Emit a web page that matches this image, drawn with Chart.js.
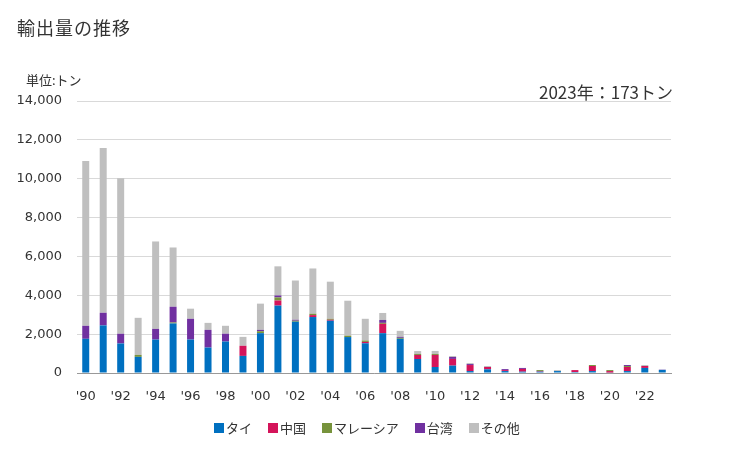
<!DOCTYPE html>
<html>
<head>
<meta charset="utf-8">
<script src="https://cdn.jsdelivr.net/npm/chart.js@4.4.0/dist/chart.umd.min.js"></script>
<style>
  body { margin: 0; background: #fff; font-family: "Noto Sans CJK JP", sans-serif; }
  #wrap { position: relative; width: 729px; height: 450px; }
  .txt { position: absolute; color: #333; white-space: nowrap; line-height: 1; }
  #title { left: 17px; top: 18px; font-size: 18px; letter-spacing: 1px; }
  #unit { left: 26px; top: 73px; font-size: 13px; }
  #note { right: 56px; top: 83px; font-size: 17px; }
  #legenda { position: absolute; left: 214px; top: 420px; display: flex; gap: 16px;
    font-size: 13px; color: #333; line-height: 16px; }
  #legenda span.item { display: flex; align-items: center; }
  #legenda i { display: inline-block; width: 10px; height: 10px; margin-right: 2px; }
</style>
</head>
<body>
<div id="wrap">
  <canvas id="grafico"></canvas>
  <div class="txt" id="title">輸出量の推移</div>
  <div class="txt" id="unit">単位:トン</div>
  <div class="txt" id="note">2023年：173トン</div>
  <div id="legenda"></div>
</div>
<script>
// --- DADOS ---
const anos = ['1990','1991','1992','1993','1994','1995','1996','1997','1998','1999',
  '2000','2001','2002','2003','2004','2005','2006','2007','2008','2009',
  '2010','2011','2012','2013','2014','2015','2016','2017','2018','2019',
  '2020','2021','2022','2023'];

const tai      = [1760,2450,1520,830,1720,2550,1720,1310,1620,880, 2050,3470,2640,2880,2690,1850,1530,2050,1760,720, 310,380,100,190,100,70,70,100,50,100, 20,100,260,160];
const china    = [0,0,0,0,0,0,0,0,0,520, 0,260,0,100,50,0,70,480,0,210, 620,345,310,120,50,140,30,0,100,260, 80,210,100,0];
const malasia  = [0,0,0,100,0,50,0,0,0,0, 100,160,50,70,50,70,70,50,50,50, 50,0,0,0,0,0,50,0,0,50, 50,50,0,0];
const taiwan   = [670,650,500,0,550,810,1070,910,400,0, 70,100,50,0,0,0,0,150,50,0, 0,100,50,0,50,50,0,0,0,0, 0,50,0,13];
const outros   = [8480,8480,8010,1910,4500,3050,520,360,410,460, 1350,1500,2020,2330,1910,1800,1120,360,310,150, 155,50,50,50,0,0,0,50,0,0, 0,0,50,0];

const ticksY = [0,2000,4000,6000,8000,10000,12000,14000];

const nomes = ['タイ', '中国', 'マレーシア', '台湾', 'その他'];
const cores = ['#0070C0', '#D4145A', '#77933C', '#7030A0', '#BFBFBF'];
const series = [tai, china, malasia, taiwan, outros];

const ctx = document.getElementById('grafico');
ctx.width = 729;
ctx.height = 450;

const fonteTicks = { family: 'DejaVu Sans', size: 13 };

new Chart(ctx, {
  type: 'bar',
  data: {
    labels: anos,
    datasets: series.map((dados, i) => ({
      label: nomes[i],
      data: dados,
      backgroundColor: cores[i],
      borderWidth: 0,
      categoryPercentage: 0.8,
      barPercentage: 0.5
    }))
  },
  options: {
    responsive: false,
    animation: false,
    layout: { padding: { top: 101, right: 58, left: 0, bottom: 47 } },
    plugins: {
      legend: { display: false },
      tooltip: { enabled: false }
    },
    scales: {
      x: {
        stacked: true,
        grid: { display: false },
        border: { color: '#999', width: 1 },
        ticks: {
          autoSkip: false, maxRotation: 0, color: '#333', padding: 8,
          font: fonteTicks,
          callback: function(v, i) {
            return i % 2 === 0 ? "'" + anos[i].slice(2) : '';
          }
        },
        afterFit: function(s) { s.height = 30; }
      },
      y: {
        stacked: true,
        min: 0, max: 14000,
        afterBuildTicks: function(s) { s.ticks = ticksY.map(v => ({ value: v })); },
        grid: { color: '#d9d9d9', drawTicks: false },
        border: { display: false },
        ticks: {
          padding: 15, color: '#333',
          font: fonteTicks,
          callback: v => v.toLocaleString('en-US')
        },
        afterFit: function(s) { s.width = 77; }
      }
    }
  }
});

// legenda em HTML
const legendaEl = document.getElementById('legenda');
nomes.forEach((nome, i) => {
  const item = document.createElement('span');
  item.className = 'item';
  item.innerHTML = `<i style="background:${cores[i]}"></i>${nome}`;
  legendaEl.appendChild(item);
});
</script>
</body>
</html>
